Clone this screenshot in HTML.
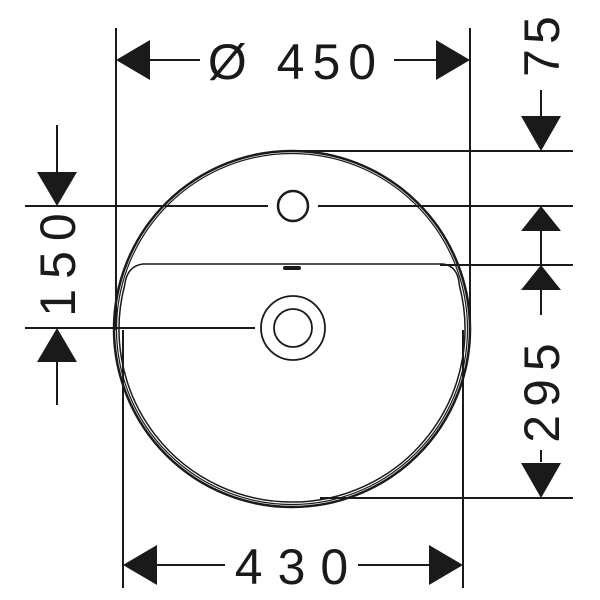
<!DOCTYPE html>
<html><head><style>body{margin:0;background:#fff}svg{display:block}</style></head><body>
<svg width="600" height="600" viewBox="0 0 600 600" xmlns="http://www.w3.org/2000/svg">
<g stroke="#1a1a1a" stroke-width="2" fill="none">
<line x1="116" y1="28" x2="116" y2="330"/>
<line x1="470" y1="28" x2="470" y2="330"/>
<line x1="123" y1="330" x2="123" y2="588"/>
<line x1="463" y1="330" x2="463" y2="588"/>
<line x1="300" y1="151" x2="573" y2="151"/>
<line x1="25" y1="206" x2="268" y2="206"/>
<line x1="318" y1="206" x2="573" y2="206"/>
<line x1="440" y1="265" x2="573" y2="265"/>
<line x1="25" y1="328" x2="255" y2="328"/>
<line x1="320" y1="498" x2="573" y2="498"/>
<circle cx="292" cy="329" r="178" stroke-width="2.5"/>
<circle cx="292" cy="329" r="175.5" stroke-width="1.2"/>
<path d="M143 264 L443 264 Q458 266 459.3 285 A173 173 0 1 1 124.7 285 Q127 266 143 264 Z" stroke-width="1.5"/>
<circle cx="293" cy="206" r="15" stroke-width="2.5"/>
<circle cx="293" cy="328" r="32" stroke-width="1.8"/>
<circle cx="293" cy="328" r="19" stroke-width="1.8"/>
<line x1="150" y1="60" x2="200" y2="60"/>
<line x1="394" y1="60" x2="436" y2="60"/>
<line x1="157" y1="565" x2="225" y2="565"/>
<line x1="358" y1="565" x2="429" y2="565"/>
<line x1="541" y1="90" x2="541" y2="116"/>
<line x1="541" y1="231" x2="541" y2="315"/>
<line x1="541" y1="450" x2="541" y2="462"/>
<line x1="57" y1="125" x2="57" y2="172"/>
<line x1="57" y1="362" x2="57" y2="405"/>
</g>
<g fill="#1a1a1a">
<polygon points="116,60 150,40 150,80"/>
<polygon points="470,60 436,40 436,80"/>
<polygon points="123,565 157,545 157,585"/>
<polygon points="463,565 429,545 429,585"/>
<polygon points="541,151 521,116 561,116"/>
<polygon points="541,206 521,231 561,231"/>
<polygon points="541,265 521,290 561,290"/>
<polygon points="541,498 521,463 561,463"/>
<polygon points="57,206 37,172 77,172"/>
<polygon points="57,328 37,362 77,362"/>
<rect x="283" y="266" width="18" height="4" rx="2"/>
</g>
<g font-family="Liberation Sans, sans-serif" font-size="50" fill="#1a1a1a">
<text x="296" y="79" text-anchor="middle" letter-spacing="8">Ø 450</text>
<text x="299" y="584" text-anchor="middle" letter-spacing="15">430</text>
<text transform="translate(559,44) rotate(-90)" text-anchor="middle" letter-spacing="5">75</text>
<text transform="translate(559,389) rotate(-90)" text-anchor="middle" letter-spacing="8">295</text>
<text transform="translate(75,260) rotate(-90)" text-anchor="middle" letter-spacing="10">150</text>
</g>
</svg>
</body></html>
